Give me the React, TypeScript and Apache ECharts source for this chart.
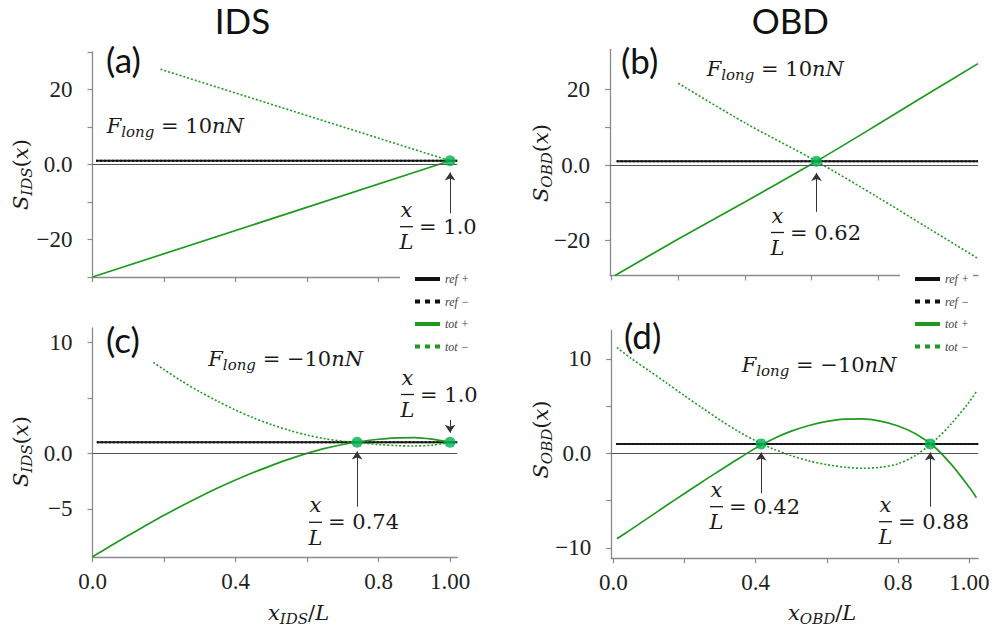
import React, { useEffect, useRef } from "react";
import * as echarts from "echarts";

// ---------------- data ----------------
const refLevel = 1.0;
const xTickValues = [0, 0.2, 0.4, 0.6, 0.8, 1.0];
const xLabelValues = [0, 0.4, 0.8, 1.0];

// (a) IDS, F_long = 10 nN
const aRefX = [0.01, 1.02];
const aPlusX = [0.0, 1.0];
const aPlusY = [-30.0, 1.0];
const aMinusX = [0.19, 1.0];
const aMinusY = [25.4, 1.0];
const aCrossX = [1.0];
const aArrows = [[1.0, -13.0, -2.1]];

// (b) OBD, F_long = 10 nN
const bRefX = [0.015, 1.1];
const bPlusX = [0.01, 0.2, 0.4, 0.615, 0.8, 0.95, 1.1];
const bPlusY = [-29.3, -19.6, -9.8, 1.0, 10.8, 18.9, 26.9];
const bMinusX = [0.2, 0.4, 0.615, 0.8, 0.95, 1.1];
const bMinusY = [21.7, 11.2, 1.0, -8.6, -16.7, -24.8];
const bCrossX = [0.615];
const bArrows = [[0.615, -12.4, -2.1]];

// (c) IDS, F_long = -10 nN
const cRefX = [0.012, 1.02];
const cPlusX = [0, 0.05, 0.1, 0.15, 0.2, 0.25, 0.3, 0.35, 0.4, 0.45, 0.5, 0.55, 0.6, 0.65, 0.7, 0.75, 0.8, 0.85, 0.9, 0.95, 1.0];
const cPlusY = [-9.3, -8.35, -7.4, -6.48, -5.58, -4.72, -3.9, -3.12, -2.4, -1.72, -1.1, -0.52, 0.0, 0.45, 0.8, 1.07, 1.27, 1.4, 1.42, 1.28, 1.0];
const cMinusX = [0.17, 0.2, 0.25, 0.3, 0.35, 0.4, 0.45, 0.5, 0.55, 0.6, 0.65, 0.7, 0.75, 0.8, 0.85, 0.9, 0.95, 1.0];
const cMinusY = [8.2, 7.55, 6.5, 5.55, 4.7, 3.9, 3.2, 2.6, 2.08, 1.65, 1.32, 1.1, 0.95, 0.8, 0.7, 0.66, 0.74, 1.0];
const cCrossX = [0.74, 1.0];
const cArrows = [[0.74, -4.8, 0.18], [1.0, 3.0, 1.86]];

// (d) OBD, F_long = -10 nN
const dRefX = [0.008, 1.025];
const dX = [0.01, 0.05, 0.1, 0.15, 0.2, 0.25, 0.3, 0.35, 0.4, 0.45, 0.5, 0.55, 0.6, 0.65, 0.7, 0.75, 0.8, 0.85, 0.9, 0.95, 1.0, 1.02];
const dPlusY = [-9.05, -8.05, -6.78, -5.5, -4.25, -3.0, -1.8, -0.6, 0.55, 1.55, 2.35, 2.95, 3.38, 3.62, 3.65, 3.4, 2.9, 2.05, 0.75, -1.2, -3.6, -4.7];
const dMinusY = [11.2, 10.05, 8.75, 7.43, 6.1, 4.8, 3.52, 2.35, 1.32, 0.45, -0.25, -0.8, -1.2, -1.47, -1.58, -1.48, -1.1, -0.2, 1.25, 3.15, 5.45, 6.55];
const dCrossX = [0.415, 0.89];
const dArrows = [[0.415, -4.23, 0.1], [0.89, -5.65, 0.1]];

const legendNames = ["ref +", "ref −", "tot +", "tot −"];

// ---------------- styles ----------------
const GREEN = "#1f9a1f";
const DOT = "#00b050";
const INK = "#1a1a1a";
const AXIS = "#8a8a8a";
const FONT_MATH = "'DejaVu Serif', serif";
const FONT_TICK = "'Liberation Serif', serif";
const FONT_SANS = "Lato, 'Open Sans', sans-serif";
const ICON_SOLID = "path://M0,0h25v4h-25z";
const ICON_DOTTED = "path://M0,0h5v4h-5zM10,0h5v4h-5zM20,0h5v4h-5z";

const zip = (xs: number[], ys: number[]) => xs.map((x, k) => [x, ys[k]]);

type Panel = {
  refX: number[];
  plusX: number[];
  plusY: number[];
  minusX: number[];
  minusY: number[];
  cross: number[];
  arrows: number[][];
  smooth: boolean;
};

const panels: Panel[] = [
  { refX: aRefX, plusX: aPlusX, plusY: aPlusY, minusX: aMinusX, minusY: aMinusY, cross: aCrossX, arrows: aArrows, smooth: false },
  { refX: bRefX, plusX: bPlusX, plusY: bPlusY, minusX: bMinusX, minusY: bMinusY, cross: bCrossX, arrows: bArrows, smooth: true },
  { refX: cRefX, plusX: cPlusX, plusY: cPlusY, minusX: cMinusX, minusY: cMinusY, cross: cCrossX, arrows: cArrows, smooth: true },
  { refX: dRefX, plusX: dX, plusY: dPlusY, minusX: dX, minusY: dMinusY, cross: dCrossX, arrows: dArrows, smooth: true },
];

function panelSeries(i: number, p: Panel): any[] {
  const common = { xAxisIndex: i, yAxisIndex: i, symbol: "none", showSymbol: false, silent: true };
  return [
    {
      ...common,
      name: legendNames[0],
      type: "line",
      data: p.refX.map((x) => [x, refLevel]),
      lineStyle: { color: "#222", width: 2 },
      itemStyle: { color: "#111" },
      z: 3,
      markLine: {
        silent: true,
        symbol: "none",
        label: { show: false },
        lineStyle: { color: "#555", width: 1, type: "solid" },
        data: [{ yAxis: 0 }],
      },
    },
    {
      ...common,
      name: legendNames[1],
      type: "line",
      data: p.refX.map((x) => [x, refLevel]),
      lineStyle: { color: "#111", width: 2, type: [2, 2] },
      itemStyle: { color: "#111" },
      z: 3,
    },
    {
      ...common,
      name: legendNames[2],
      type: "line",
      smooth: p.smooth ? 0.3 : false,
      data: zip(p.plusX, p.plusY),
      lineStyle: { color: GREEN, width: 1.7 },
      itemStyle: { color: GREEN },
      z: 4,
    },
    {
      ...common,
      name: legendNames[3],
      type: "line",
      smooth: p.smooth ? 0.3 : false,
      data: zip(p.minusX, p.minusY),
      lineStyle: { color: GREEN, width: 1.6, type: [2, 2] },
      itemStyle: { color: GREEN },
      z: 4,
    },
    {
      xAxisIndex: i,
      yAxisIndex: i,
      silent: true,
      name: "crossing",
      type: "scatter",
      data: p.cross.map((x) => [x, refLevel]),
      symbolSize: 11,
      itemStyle: { color: DOT },
      z: 6,
      markLine: {
        silent: true,
        symbol: ["none", "arrow"],
        symbolSize: 8,
        label: { show: false },
        lineStyle: { color: "#333", width: 1, type: "solid" },
        data: p.arrows.map((a) => [{ coord: [a[0], a[1]] }, { coord: [a[0], a[2]] }]),
      },
    },
  ];
}

const yFmt = (v: number) => (v === 0 ? "0.0" : v < 0 ? "−" + Math.abs(v) : String(v));
const xFmt = (v: number) => (v === 1 ? "1.00" : v.toFixed(1));

function xAxis(i: number, min: number, max: number, labels: boolean) {
  return {
    type: "value",
    gridIndex: i,
    min,
    max,
    axisLine: { show: true, onZero: false, lineStyle: { color: AXIS, width: 1.3 } },
    axisTick: { show: true, length: 5, customValues: xTickValues, lineStyle: { color: AXIS, width: 1.2 } },
    axisLabel: {
      show: labels,
      customValues: xLabelValues,
      formatter: xFmt,
      margin: 12.5,
      fontFamily: FONT_TICK,
      fontSize: 23,
      color: "#222",
    },
    splitLine: { show: false },
  };
}

function yAxis(i: number, min: number, max: number, ticks: number[], labels: number[]) {
  return {
    type: "value",
    gridIndex: i,
    min,
    max,
    axisLine: { show: true, onZero: false, lineStyle: { color: AXIS, width: 1.3 } },
    axisTick: { show: true, length: 5, customValues: ticks, lineStyle: { color: AXIS, width: 1.2 } },
    axisLabel: {
      show: true,
      customValues: labels,
      formatter: yFmt,
      margin: 20,
      fontFamily: FONT_TICK,
      fontSize: 23,
      color: "#222",
    },
    splitLine: { show: false },
  };
}

// ------------- annotation helpers -------------
const mathRich: any = {
  i: { fontFamily: FONT_MATH, fontStyle: "italic", fontSize: 21, lineHeight: 27, verticalAlign: "middle", fill: INK },
  r: { fontFamily: FONT_MATH, fontSize: 21, lineHeight: 27, verticalAlign: "middle", fill: INK },
  s: { fontFamily: FONT_MATH, fontStyle: "italic", fontSize: 15, lineHeight: 15, verticalAlign: "bottom", fill: INK },
};

function mathText(x: number, y: number, text: string, rotation = 0): any {
  return {
    type: "text",
    x,
    y,
    rotation,
    z: 20,
    silent: true,
    style: { text, rich: mathRich, align: "left", verticalAlign: "middle", fill: INK, fontFamily: FONT_MATH, fontSize: 21 },
  };
}

function frac(xLeft: number, barY: number, value: string): any {
  return {
    type: "group",
    z: 20,
    silent: true,
    children: [
      {
        type: "text",
        x: xLeft + 6.5,
        y: barY - 17,
        style: { text: "x", fontFamily: FONT_MATH, fontStyle: "italic", fontSize: 21, fill: INK, align: "center", verticalAlign: "middle" },
      },
      {
        type: "line",
        shape: { x1: xLeft, y1: barY, x2: xLeft + 13, y2: barY },
        style: { stroke: INK, lineWidth: 1.3 },
      },
      {
        type: "text",
        x: xLeft + 6.5,
        y: barY + 15.5,
        style: { text: "L", fontFamily: FONT_MATH, fontStyle: "italic", fontSize: 21, fill: INK, align: "center", verticalAlign: "middle" },
      },
      {
        type: "text",
        x: xLeft + 19,
        y: barY,
        style: { text: "= " + value, fontFamily: FONT_MATH, fontSize: 21, fill: INK, align: "left", verticalAlign: "middle" },
      },
    ],
  };
}

function plainText(x: number, y: number, text: string, size: number, align = "center"): any {
  return {
    type: "text",
    x,
    y,
    z: 20,
    silent: true,
    style: { text, fontFamily: FONT_SANS, fontSize: size, fill: "#111", align, verticalAlign: "middle" },
  };
}

function legend(left: number): any {
  return {
    data: [
      { name: legendNames[0], icon: ICON_SOLID },
      { name: legendNames[1], icon: ICON_DOTTED },
      { name: legendNames[2], icon: ICON_SOLID },
      { name: legendNames[3], icon: ICON_DOTTED },
    ],
    orient: "vertical",
    left,
    top: 268,
    padding: [5, 4, 5, 15],
    itemWidth: 25,
    itemHeight: 4,
    itemGap: 10.5,
    backgroundColor: "#fff",
    selectedMode: false,
    z: 10,
    textStyle: { fontFamily: FONT_TICK, fontStyle: "italic", fontSize: 12, color: "#444" },
  };
}

export default function App() {
  const ref = useRef<HTMLDivElement>(null);

  useEffect(() => {
    if (!ref.current) return;
    const chart = echarts.init(ref.current, undefined, { renderer: "svg" });

    const option: any = {
      animation: false,
      backgroundColor: "#fff",
      grid: [
        { left: 92.5, top: 52, width: 364.7, height: 225 },
        { left: 610, top: 49.3, width: 368, height: 226.2 },
        { left: 92.5, top: 327.9, width: 364.7, height: 229.3 },
        { left: 611.2, top: 330.5, width: 367, height: 227.7 },
      ],
      xAxis: [
        xAxis(0, 0, 1.02, false),
        xAxis(1, -0.005, 1.1, false),
        xAxis(2, 0, 1.02, true),
        xAxis(3, -0.006, 1.025, true),
      ],
      yAxis: [
        yAxis(0, -30, 30, [-30, -20, -10, 0, 10, 20, 30], [-20, 0, 20]),
        yAxis(1, -29.3, 30.7, [-20, -10, 0, 10, 20], [-20, 0, 20]),
        yAxis(2, -9.35, 11.3, [-5, 0, 5, 10], [-5, 0, 10]),
        yAxis(3, -11.1, 13.0, [-10, -5, 0, 5, 10], [-10, 0, 10]),
      ],
      legend: [legend(400), legend(900)],
      series: panels.flatMap((p, i) => panelSeries(i, p)),
      graphic: [
        plainText(242.5, 20, "IDS", 35),
        plainText(790.3, 20, "OBD", 35),
        plainText(106, 59, "(a)", 35, "left"),
        plainText(621, 60, "(b)", 35, "left"),
        plainText(106, 339, "(c)", 35, "left"),
        plainText(624, 335, "(d)", 35, "left"),
        mathText(106.7, 126.2, "{i|F}{s|long}{r| = 10}{i|nN}"),
        mathText(706.7, 68.7, "{i|F}{s|long}{r| = 10}{i|nN}"),
        mathText(208.3, 358.7, "{i|F}{s|long}{r| = −10}{i|nN}"),
        mathText(741.7, 364.6, "{i|F}{s|long}{r| = −10}{i|nN}"),
        frac(400, 226.7, "1.0"),
        frac(771, 232.5, "0.62"),
        frac(309, 522.3, "0.74"),
        frac(401, 394.5, "1.0"),
        frac(710, 506.7, "0.42"),
        frac(879, 521.7, "0.88"),
        mathText(21, 210, "{i|S}{s|IDS}{r|(}{i|x}{r|)}", Math.PI / 2),
        mathText(541, 202, "{i|S}{s|OBD}{r|(}{i|x}{r|)}", Math.PI / 2),
        mathText(21, 487, "{i|S}{s|IDS}{r|(}{i|x}{r|)}", Math.PI / 2),
        mathText(541, 478.5, "{i|S}{s|OBD}{r|(}{i|x}{r|)}", Math.PI / 2),
        mathText(268, 613, "{i|x}{s|IDS}{r|/}{i|L}"),
        mathText(788, 613, "{i|x}{s|OBD}{r|/}{i|L}"),
      ],
    };

    chart.setOption(option);
    return () => chart.dispose();
  }, []);

  return (
    <div
      ref={ref}
      style={{ position: "fixed", left: 0, top: 0, width: 1000, height: 634, background: "#fff" }}
    />
  );
}
